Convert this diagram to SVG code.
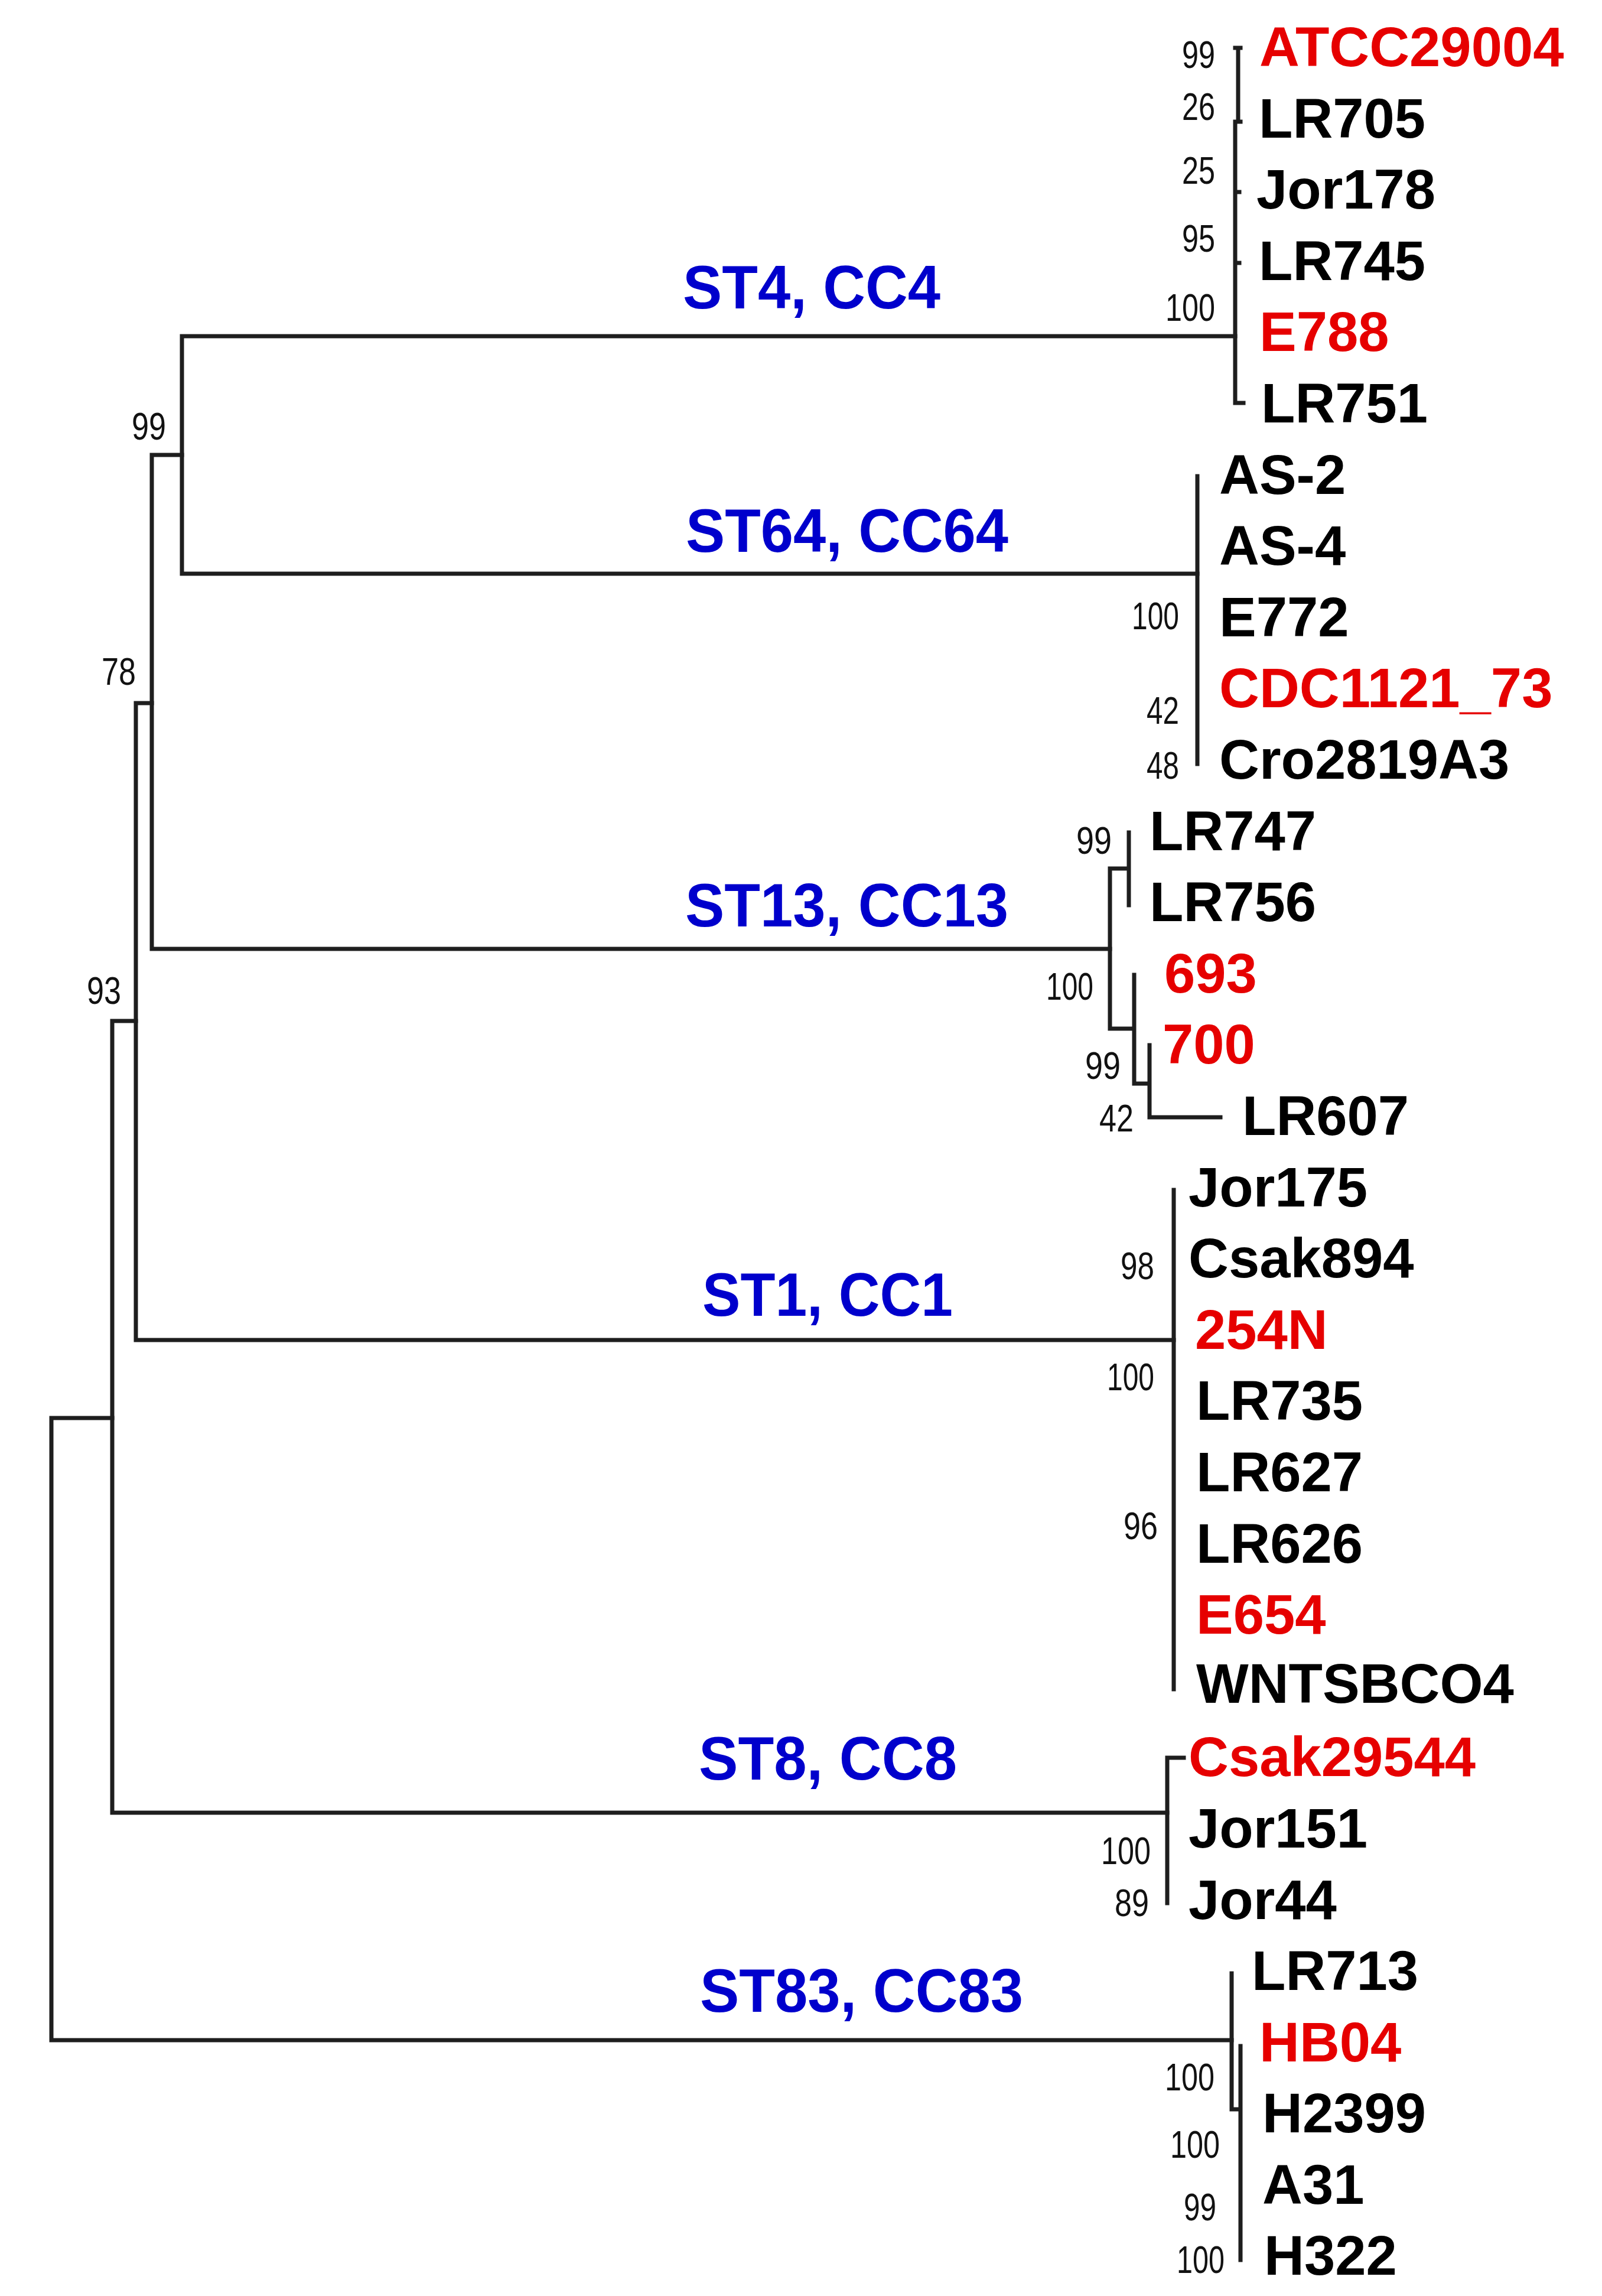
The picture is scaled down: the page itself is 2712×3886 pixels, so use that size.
<svg xmlns="http://www.w3.org/2000/svg" width="2712" height="3886" viewBox="0 0 2712 3886">
<style>
.br{stroke:#1e1e1e;stroke-width:7;fill:none;stroke-linecap:square}
.leaf{font-family:"Liberation Sans",Arial,sans-serif;font-weight:bold;font-size:94px;fill:#000}
.red{fill:#e60000}
.st{font-family:"Liberation Sans",Arial,sans-serif;font-weight:bold;font-size:104px;fill:#0000cc}
.bs{font-family:"Liberation Sans",Arial,sans-serif;font-size:64px;fill:#111;text-anchor:end}
</style>
<rect width="2712" height="3886" fill="#fff"/>
<g id="connectors" class="br">
<!-- backbone -->
<path d="M87,2400 V3453 M87,2400 H190 M87,3453 H2085"/>
<path d="M190,1728 V3068 M190,1728 H230 M190,3068 H1976"/>
<path d="M230,1190 V2268 M230,1190 H257 M230,2268 H1987"/>
<path d="M257,770 V1606 M257,770 H308 M257,1606 H1879"/>
<path d="M308,569 V971 M308,569 H2091 M308,971 H2027"/>
<!-- ST4 clade -->
<path d="M2096,81 V206 M2091,206 V682 M2091,81 H2100 M2091,206 H2100 M2091,325 H2098 M2091,445 H2098 M2091,682 H2105"/>
<!-- ST64 clade -->
<path d="M2027,806 V1293"/>
<!-- ST13 clade -->
<path d="M1879,1470 V1741 M1879,1470 H1911 M1911,1409 V1532 M1879,1741 H1920 M1920,1650 V1834 M1920,1834 H1946 M1946,1769 V1891 M1946,1891 H2066"/>
<!-- ST1 clade -->
<path d="M1987,2014 V2859"/>
<!-- ST8 clade -->
<path d="M1976,2975 V3221 M1976,2975 H2004"/>
<!-- ST83 clade -->
<path d="M2085,3340 V3570 M2085,3570 H2100 M2100,3463 V3825"/>
</g>
<g id="clade-labels">
<g id="st4"><text class="st" x="1156" y="522" textLength="436" lengthAdjust="spacingAndGlyphs">ST4, CC4</text></g>
<g id="st64"><text class="st" x="1161" y="934" textLength="546" lengthAdjust="spacingAndGlyphs">ST64, CC64</text></g>
<g id="st13"><text class="st" x="1160" y="1568" textLength="547" lengthAdjust="spacingAndGlyphs">ST13, CC13</text></g>
<g id="st1"><text class="st" x="1189" y="2227" textLength="424" lengthAdjust="spacingAndGlyphs">ST1, CC1</text></g>
<g id="st8"><text class="st" x="1183" y="3012" textLength="437" lengthAdjust="spacingAndGlyphs">ST8, CC8</text></g>
<g id="st83"><text class="st" x="1185" y="3405" textLength="547" lengthAdjust="spacingAndGlyphs">ST83, CC83</text></g>
</g>
<g id="bootstrap">
<text class="bs" x="281" y="744" textLength="58" lengthAdjust="spacingAndGlyphs">99</text>
<text class="bs" x="230" y="1159" textLength="58" lengthAdjust="spacingAndGlyphs">78</text>
<text class="bs" x="205" y="1699" textLength="58" lengthAdjust="spacingAndGlyphs">93</text>
<text class="bs" x="2057" y="115" textLength="56" lengthAdjust="spacingAndGlyphs">99</text>
<text class="bs" x="2057" y="203" textLength="56" lengthAdjust="spacingAndGlyphs">26</text>
<text class="bs" x="2057" y="311" textLength="56" lengthAdjust="spacingAndGlyphs">25</text>
<text class="bs" x="2057" y="426" textLength="56" lengthAdjust="spacingAndGlyphs">95</text>
<text class="bs" x="2057" y="543" textLength="84" lengthAdjust="spacingAndGlyphs">100</text>
<text class="bs" x="1996" y="1065" textLength="80" lengthAdjust="spacingAndGlyphs">100</text>
<text class="bs" x="1996" y="1225" textLength="55" lengthAdjust="spacingAndGlyphs">42</text>
<text class="bs" x="1996" y="1318" textLength="55" lengthAdjust="spacingAndGlyphs">48</text>
<text class="bs" x="1882" y="1445" textLength="60" lengthAdjust="spacingAndGlyphs">99</text>
<text class="bs" x="1851" y="1692" textLength="80" lengthAdjust="spacingAndGlyphs">100</text>
<text class="bs" x="1897" y="1826" textLength="60" lengthAdjust="spacingAndGlyphs">99</text>
<text class="bs" x="1919" y="1915" textLength="58" lengthAdjust="spacingAndGlyphs">42</text>
<text class="bs" x="1954" y="2165" textLength="57" lengthAdjust="spacingAndGlyphs">98</text>
<text class="bs" x="1954" y="2353" textLength="80" lengthAdjust="spacingAndGlyphs">100</text>
<text class="bs" x="1960" y="2605" textLength="58" lengthAdjust="spacingAndGlyphs">96</text>
<text class="bs" x="1948" y="3155" textLength="84" lengthAdjust="spacingAndGlyphs">100</text>
<text class="bs" x="1945" y="3243" textLength="58" lengthAdjust="spacingAndGlyphs">89</text>
<text class="bs" x="2056" y="3538" textLength="84" lengthAdjust="spacingAndGlyphs">100</text>
<text class="bs" x="2065" y="3652" textLength="84" lengthAdjust="spacingAndGlyphs">100</text>
<text class="bs" x="2059" y="3758" textLength="55" lengthAdjust="spacingAndGlyphs">99</text>
<text class="bs" x="2073" y="3847" textLength="81" lengthAdjust="spacingAndGlyphs">100</text>
</g>
<g id="leaves">
<g id="n-ATCC29004"><text class="leaf red" x="2132" y="112">ATCC29004</text></g>
<g id="n-LR705"><text class="leaf" x="2131" y="233">LR705</text></g>
<g id="n-Jor178"><text class="leaf" x="2127" y="353">Jor178</text></g>
<g id="n-LR745"><text class="leaf" x="2131" y="474">LR745</text></g>
<g id="n-E788"><text class="leaf red" x="2132" y="594">E788</text></g>
<g id="n-LR751"><text class="leaf" x="2135" y="715">LR751</text></g>
<g id="n-AS-2"><text class="leaf" x="2064" y="836">AS-2</text></g>
<g id="n-AS-4"><text class="leaf" x="2064" y="956">AS-4</text></g>
<g id="n-E772"><text class="leaf" x="2064" y="1077">E772</text></g>
<g id="n-CDC1121_73"><text class="leaf red" x="2064" y="1197">CDC1121_73</text></g>
<g id="n-Cro2819A3"><text class="leaf" x="2064" y="1318">Cro2819A3</text></g>
<g id="n-LR747"><text class="leaf" x="1946" y="1439">LR747</text></g>
<g id="n-LR756"><text class="leaf" x="1946" y="1559">LR756</text></g>
<g id="n-693"><text class="leaf red" x="1971" y="1680">693</text></g>
<g id="n-700"><text class="leaf red" x="1968" y="1800">700</text></g>
<g id="n-LR607"><text class="leaf" x="2103" y="1921">LR607</text></g>
<g id="n-Jor175"><text class="leaf" x="2012" y="2042">Jor175</text></g>
<g id="n-Csak894"><text class="leaf" x="2012" y="2162">Csak894</text></g>
<g id="n-254N"><text class="leaf red" x="2023" y="2283">254N</text></g>
<g id="n-LR735"><text class="leaf" x="2025" y="2403">LR735</text></g>
<g id="n-LR627"><text class="leaf" x="2025" y="2524">LR627</text></g>
<g id="n-LR626"><text class="leaf" x="2025" y="2645">LR626</text></g>
<g id="n-E654"><text class="leaf red" x="2025" y="2765">E654</text></g>
<g id="n-WNTSBCO4"><text class="leaf" x="2025" y="2882">WNTSBCO4</text></g>
<g id="n-Csak29544"><text class="leaf red" x="2012" y="3006">Csak29544</text></g>
<g id="n-Jor151"><text class="leaf" x="2012" y="3127">Jor151</text></g>
<g id="n-Jor44"><text class="leaf" x="2012" y="3248">Jor44</text></g>
<g id="n-LR713"><text class="leaf" x="2119" y="3368">LR713</text></g>
<g id="n-HB04"><text class="leaf red" x="2132" y="3489">HB04</text></g>
<g id="n-H2399"><text class="leaf" x="2137" y="3609">H2399</text></g>
<g id="n-A31"><text class="leaf" x="2137" y="3730">A31</text></g>
<g id="n-H322"><text class="leaf" x="2140" y="3850">H322</text></g>
</g>
</svg>
